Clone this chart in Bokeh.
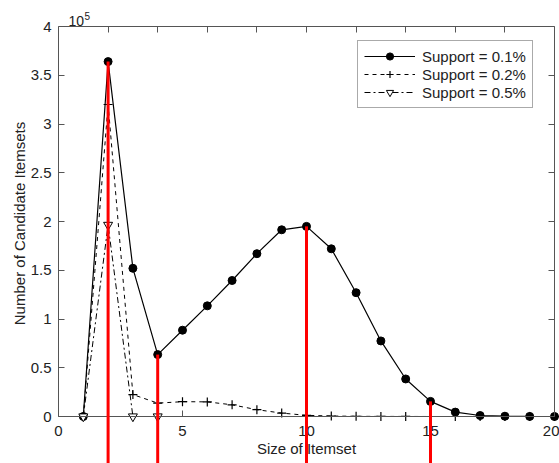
import math
from bokeh.plotting import figure
from bokeh.models import (Range1d, FixedTicker, LinearAxis, CustomJSTickFormatter,
                          Label, ColumnDataSource)
from bokeh.embed import file_html
from bokeh.resources import INLINE

# ---- data ----
sizes = list(range(1, 21))
support_01 = [0, 364000, 152000, 63500, 88500, 113500, 139500, 167000, 191500, 195000,
              172000, 127000, 77500, 38500, 15500, 4500, 1000, 300, 100, 0]
support_02 = [0, 320000, 22500, 13700, 15200, 15000, 12000, 7000, 3500, 1200,
              500, 200, 100, 50, 0, 0, 0, 0, 0, 0]
sizes_05 = [1, 2, 3, 4]
support_05 = [0, 196500, 0, 0]
highlight_sizes = [2, 4, 10, 15]
x_ticks = [0, 5, 10, 15, 20]
x_ticks_top = [2, 4, 6, 8, 10, 12, 14, 16, 18]
y_ticks = [0, 50000, 100000, 150000, 200000, 250000, 300000, 350000, 400000]
x_label = "Size of Itemset"
y_label = "Number of Candidate Itemsets"

FONT = "Liberation Sans"
AX = "#555555"
TXT = "#222222"

# layout: the whole canvas is the plot frame; axes are pinned at the data box
W, H = 559, 463
box_left, box_right, box_top, box_bottom = 58, 554, 26, 416   # pixels
px_x = (box_right - box_left) / 20.0
px_y = (box_bottom - box_top) / 400000.0
x_start = -box_left / px_x
x_end = 20 + (W - box_right) / px_x
y_end = 400000 + box_top / px_y
y_bottom = -(H - box_bottom) / px_y

p = figure(width=W, height=H, output_backend="svg", toolbar_location=None,
           x_range=Range1d(x_start, x_end), y_range=Range1d(y_bottom, y_end),
           min_border=0, min_border_left=0, min_border_right=0,
           min_border_top=0, min_border_bottom=0)
p.outline_line_color = None
p.grid.visible = False
p.background_fill_color = "white"

fmt_y = CustomJSTickFormatter(code="return (tick/1e5).toString();")
blank = CustomJSTickFormatter(code="return '';")

def style(ax):
    ax.axis_line_color = AX
    ax.major_tick_line_color = AX
    ax.major_tick_in = 6
    ax.major_tick_out = 0
    ax.minor_tick_line_color = None
    ax.major_label_text_font = FONT
    ax.major_label_text_font_size = "15px"
    ax.major_label_text_color = TXT
    ax.axis_label_text_font = FONT
    ax.axis_label_text_font_size = "15px"
    ax.axis_label_text_font_style = "normal"
    ax.axis_label_text_color = TXT

xa = p.xaxis[0]
style(xa)
xa.ticker = FixedTicker(ticks=x_ticks)
xa.bounds = (0, 20)
xa.fixed_location = 0
xa.major_label_standoff = 9
xa.axis_label = x_label
xa.axis_label_standoff = 1

ya = p.yaxis[0]
style(ya)
ya.ticker = FixedTicker(ticks=y_ticks)
ya.bounds = (0, 400000)
ya.fixed_location = 0
ya.formatter = fmt_y
ya.major_label_standoff = 7

top = LinearAxis(ticker=FixedTicker(ticks=x_ticks_top), formatter=blank, fixed_location=400000,
                 bounds=(0, 20))
style(top)
p.add_layout(top, "above")
right = LinearAxis(ticker=FixedTicker(ticks=y_ticks), formatter=blank, fixed_location=20,
                   bounds=(0, 400000))
style(right)
p.add_layout(right, "right")

# y axis title, centred on the 0..4e5 span
p.add_layout(Label(x=0, y=200000, x_offset=-39.5, y_offset=-2, text=y_label, angle=math.pi / 2,
                   text_align="center", text_baseline="middle", text_font=FONT,
                   text_font_size="15px", text_color=TXT))

# series
p.line(sizes, support_01, line_color="black", line_width=1.2, legend_label="Support = 0.1%")
p.scatter(sizes, support_01, marker="circle", size=8, fill_color="black", line_color="black",
          legend_label="Support = 0.1%")
p.line(sizes, support_02, line_color="black", line_width=1, line_dash="4 4",
       legend_label="Support = 0.2%")
p.scatter(sizes, support_02, marker="cross", size=9, line_color="black", line_width=1.2,
          legend_label="Support = 0.2%")
p.line(sizes_05, support_05, line_color="black", line_width=1, line_dash="6 3 2 3",
       legend_label="Support = 0.5%")
p.scatter(sizes_05, support_05, marker="inverted_triangle", size=9, fill_color="white",
          line_color="black", line_width=1, legend_label="Support = 0.5%")

# red highlight lines
hl_top = [support_01[sizes.index(s)] for s in highlight_sizes]
src = ColumnDataSource(dict(x=highlight_sizes, y0=hl_top, y1=[y_bottom] * len(highlight_sizes)))
r = p.segment(x0="x", y0="y0", x1="x", y1="y1", source=src, line_color="#ff0000", line_width=3)
r.level = "overlay"

# exponent label
p.add_layout(Label(x=0, y=400000, x_offset=10, y_offset=6, text="10", text_font=FONT,
                   text_font_size="14px", text_color=TXT, text_baseline="alphabetic"))
p.add_layout(Label(x=0, y=400000, x_offset=26, y_offset=11, text="5", text_font=FONT,
                   text_font_size="10px", text_color=TXT, text_baseline="alphabetic"))

lg = p.legend[0]
lg.location = (357, H - 108)
lg.margin = 0
lg.label_text_font = FONT
lg.label_text_font_size = "15px"
lg.label_text_color = TXT
lg.glyph_width = 51
lg.glyph_height = 18
lg.label_height = 18
lg.spacing = 0
lg.padding = 6
lg.label_standoff = 7
lg.border_line_color = AX
lg.border_line_width = 1
lg.background_fill_alpha = 1

open("out.html", "w").write(file_html(p, INLINE))
